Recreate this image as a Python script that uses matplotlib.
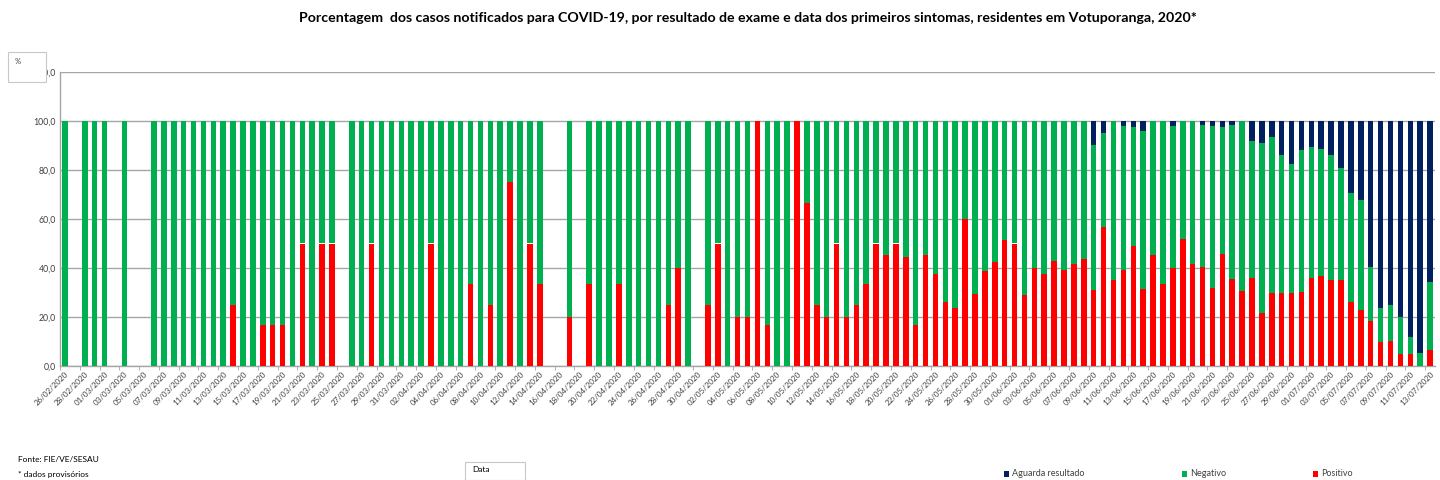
import matplotlib
matplotlib.use("Agg")
import matplotlib.pyplot as plt
from matplotlib.patches import Rectangle
import numpy as np
import pandas as pd

plt.rcParams['font.family'] = ['Lato', 'DejaVu Sans']

# ---- data (percent per day of first symptoms) ----
dates = pd.date_range("2020-02-26", "2020-07-13", freq="D")
labels = [d.strftime("%d/%m/%Y") for d in dates]

positivo = [
    0, 0, 0, 0, 0, 0, 0, 0, 0, 0,            # 0-9
    0, 0, 0, 0, 0, 0, 0, 25, 0, 0,           # 10-19
    16.7, 16.7, 16.7, 0, 50, 0, 50, 50, 0, 0,  # 20-29
    0, 50, 0, 0, 0, 0, 0, 50, 0, 0,          # 30-39
    0, 33.3, 0, 25, 0, 75, 0, 50, 33.3, 0,   # 40-49
    0, 20, 0, 33.3, 0, 0, 33.3, 0, 0, 0,     # 50-59
    0, 25, 40, 0, 0, 25, 50, 0, 20, 20,      # 60-69
    100, 16.7, 0, 0, 100, 66.7, 25, 20, 50, 20,  # 70-79
    25, 33.3, 50, 45.5, 50, 44.4, 16.7, 45.5, 37.5, 26.3,  # 80-89
    23.5, 60, 29.4, 38.9, 42.3, 51.5, 50, 29, 40, 37.5,    # 90-99
    43, 39, 41.5, 43.7, 31, 56.6, 35, 39, 48.8, 31.6,      # 100-109
    45.3, 33.4, 40, 51.8, 41.6, 40.3, 31.8, 45.9, 35.6, 30.7,  # 110-119
    35.9, 21.8, 29.6, 29.6, 29.6, 30.1, 36.1, 36.9, 34.9, 34.9,  # 120-129
    26.3, 23, 18.4, 9.9, 10.3, 4.8, 4.8, 0, 6.7,               # 130-138
]

negativo = [
    100, 0, 100, 100, 100, 0, 100, 0, 0, 100,
    100, 100, 100, 100, 100, 100, 100, 75, 100, 100,
    83.3, 83.3, 83.3, 100, 50, 100, 50, 50, 0, 100,
    100, 50, 100, 100, 100, 100, 100, 50, 100, 100,
    100, 66.7, 100, 75, 100, 25, 100, 50, 66.7, 0,
    0, 80, 0, 66.7, 100, 100, 66.7, 100, 100, 100,
    100, 75, 60, 100, 0, 75, 50, 100, 80, 80,
    0, 83.3, 100, 100, 0, 33.3, 75, 80, 50, 80,
    75, 66.7, 50, 54.5, 50, 55.6, 83.3, 54.5, 62.5, 73.7,
    76.5, 40, 70.6, 61.1, 57.7, 48.5, 50, 71, 60, 62.5,
    57, 61, 58.5, 56.3, 59.4, 38.4, 65, 58.8, 48.7, 64.4,
    54.7, 66.6, 57.8, 48.2, 58.4, 57.9, 66.2, 51.6, 62.8, 69.3,
    56.1, 69.4, 64.0, 56.4, 53.0, 58.0, 53.3, 51.6, 51.1, 45.9,
    44.4, 44.9, 22.1, 13.9, 14.8, 15.2, 7.0, 5.3, 27.7,
]

aguarda = [
    0, 0, 0, 0, 0, 0, 0, 0, 0, 0,
    0, 0, 0, 0, 0, 0, 0, 0, 0, 0,
    0, 0, 0, 0, 0, 0, 0, 0, 0, 0,
    0, 0, 0, 0, 0, 0, 0, 0, 0, 0,
    0, 0, 0, 0, 0, 0, 0, 0, 0, 0,
    0, 0, 0, 0, 0, 0, 0, 0, 0, 0,
    0, 0, 0, 0, 0, 0, 0, 0, 0, 0,
    0, 0, 0, 0, 0, 0, 0, 0, 0, 0,
    0, 0, 0, 0, 0, 0, 0, 0, 0, 0,
    0, 0, 0, 0, 0, 0, 0, 0, 0, 0,
    0, 0, 0, 0, 9.6, 5.0, 0, 2.2, 2.5, 4.0,
    0, 0, 2.2, 0, 0, 1.8, 2.0, 2.5, 1.6, 0,
    8.0, 8.8, 6.4, 14.0, 17.4, 11.9, 10.6, 11.5, 14.0, 19.2,
    29.3, 32.1, 59.5, 76.2, 74.9, 80.0, 88.2, 94.7, 65.6,
]

series_names = ["Aguarda resultado", "Negativo", "Positivo"]
c_pos = "#FF0000"
c_neg = "#00B050"
c_ag = "#002060"

# ---- figure ----
fig = plt.figure(figsize=(14.4, 4.8), dpi=100)
ax = fig.add_axes([60 / 1440, 1 - 366 / 480, 1375 / 1440, 294 / 480])

x = np.arange(len(labels))
pos = np.array(positivo)
neg = np.array(negativo)
ag = np.array(aguarda)
w = 0.56
ax.bar(x, pos, width=w, color=c_pos, zorder=3, linewidth=0)
ax.bar(x, neg, width=w, bottom=pos, color=c_neg, zorder=3, linewidth=0)
ax.bar(x, ag, width=w, bottom=pos + neg, color=c_ag, zorder=3, linewidth=0)

ax.set_xlim(-0.5, len(labels) - 0.5)
ax.set_ylim(0, 120)
yt = np.arange(0, 121, 20)
ax.set_yticks(yt)
ax.set_yticklabels([f"{v:.1f}".replace(".", ",") for v in yt], fontsize=6.3, color="#404040")
ax.yaxis.grid(True, color="#A6A6A6", linewidth=1.0, zorder=0)
ax.set_axisbelow(True)

ax.set_xticks(x[::2])
ax.set_xticklabels(labels[::2], rotation=45, ha="right", rotation_mode="anchor",
                   fontsize=5.8, color="#404040")
ax.tick_params(axis="x", which="major", length=0, pad=3)
ax.set_xticks(np.arange(-0.5, len(labels), 2), minor=True)
ax.tick_params(axis="x", which="minor", length=3, color="#A6A6A6")
ax.tick_params(axis="y", length=0, pad=3)

for s in ["top", "right"]:
    ax.spines[s].set_visible(False)
ax.spines["left"].set_color("#A6A6A6")
ax.spines["bottom"].set_color("#A6A6A6")
ax.spines["left"].set_linewidth(1.0)
ax.spines["bottom"].set_linewidth(1.0)

# title
fig.text(748 / 1440, 1 - 18 / 480,
         "Porcentagem  dos casos notificados para COVID-19, por resultado de exame e data dos primeiros sintomas, residentes em Votuporanga, 2020*",
         ha="center", va="center", fontsize=10.2, fontweight="bold", color="#000000")

# "%" box covering top of y axis label
fig.patches.append(Rectangle((8 / 1440, 1 - 82 / 480), 38 / 1440, 30 / 480,
                             transform=fig.transFigure, facecolor="white",
                             edgecolor="#C8C8C8", linewidth=0.8, zorder=10))
fig.text(15 / 1440, 1 - 61 / 480, "%", fontsize=5.5, color="#404040",
         ha="left", va="center", zorder=11)

# source notes
fig.text(18 / 1440, 1 - 460 / 480, "Fonte: FIE/VE/SESAU", fontsize=6, color="#000000",
         ha="left", va="center")
fig.text(18 / 1440, 1 - 474 / 480, "* dados provisórios", fontsize=6, color="#000000",
         ha="left", va="center")

# "Data" box
fig.patches.append(Rectangle((465 / 1440, 0), 60 / 1440, 18 / 480,
                             transform=fig.transFigure, facecolor="white",
                             edgecolor="#C8C8C8", linewidth=0.8, zorder=10))
fig.text(472 / 1440, 1 - 470 / 480, "Data", fontsize=6, color="#000000",
         ha="left", va="center", zorder=11)

# legend
leg_items = [(1004, c_ag, series_names[0]), (1182, c_neg, series_names[1]),
             (1313, c_pos, series_names[2])]
for lx, col, name in leg_items:
    fig.patches.append(Rectangle((lx / 1440, 1 - 477 / 480), 5 / 1440, 6 / 480,
                                 transform=fig.transFigure, facecolor=col,
                                 edgecolor="none", zorder=10))
    fig.text((lx + 8) / 1440, 1 - 474 / 480, name, fontsize=6.5, color="#404040",
             ha="left", va="center")

fig.savefig("out.png", dpi=100)
